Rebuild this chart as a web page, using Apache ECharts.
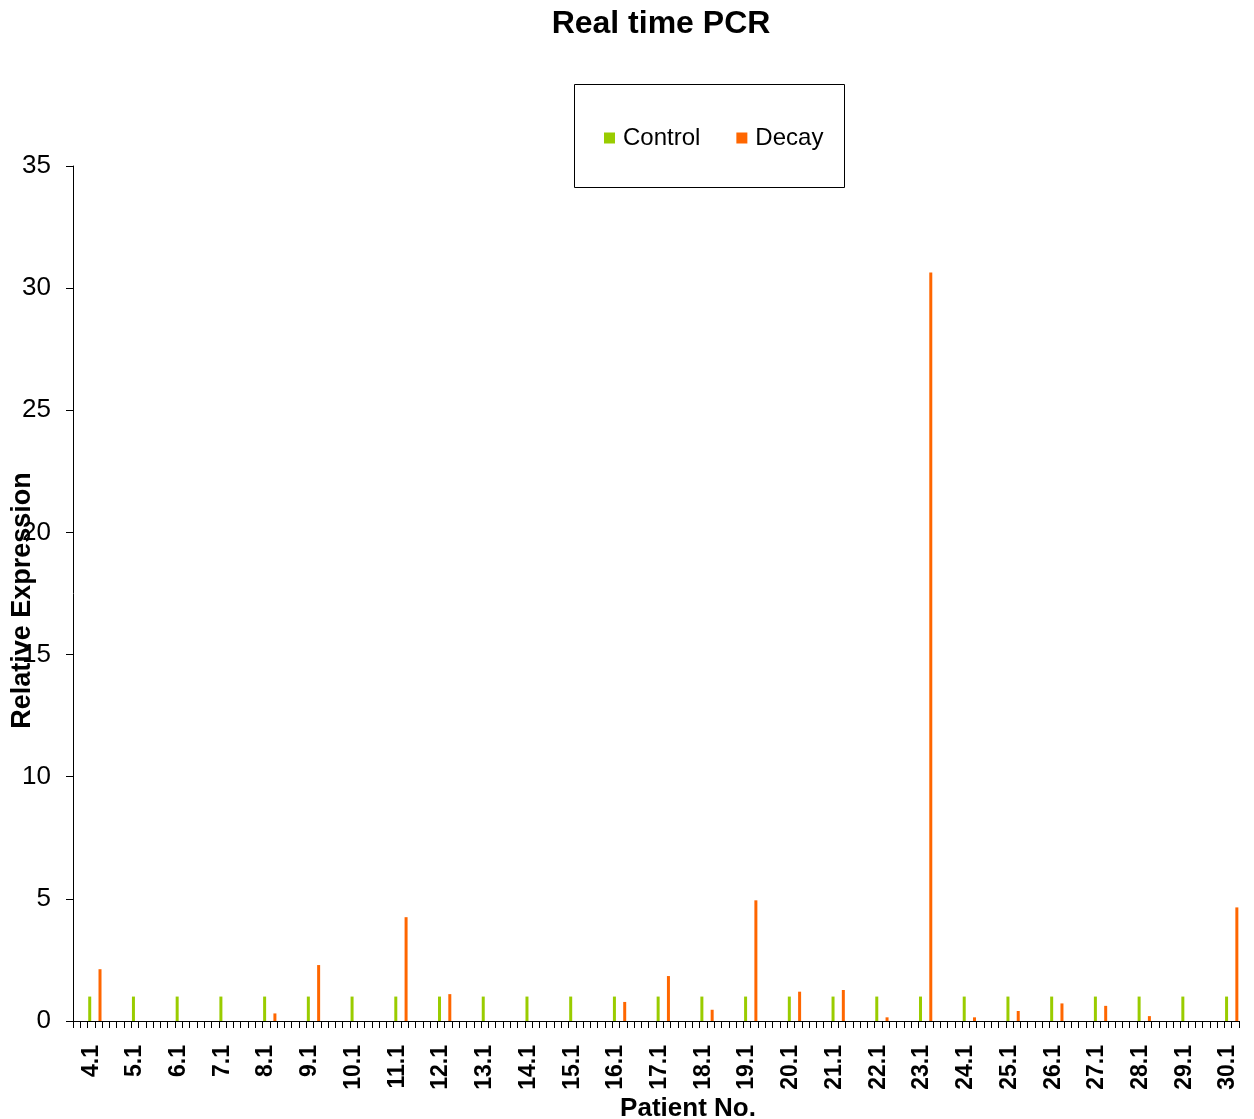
<!DOCTYPE html>
<html>
<head>
<meta charset="utf-8">
<title>Real time PCR</title>
<script src="https://cdn.jsdelivr.net/npm/echarts@6/dist/echarts.min.js"></script>
<style>
  html, body { margin: 0; padding: 0; background: #ffffff; }
  #chart { width: 1254px; height: 1119px; }
</style>
</head>
<body>
<div id="chart"></div>
<script>
// Patient numbers shown on the x axis
const patients = ['4.1', '5.1', '6.1', '7.1', '8.1', '9.1', '10.1', '11.1', '12.1',
  '13.1', '14.1', '15.1', '16.1', '17.1', '18.1', '19.1', '20.1', '21.1', '22.1',
  '23.1', '24.1', '25.1', '26.1', '27.1', '28.1', '29.1', '30.1'];

// Relative expression, control samples
const controlValues = [1, 1, 1, 1, 1, 1, 1, 1, 1, 1, 1, 1, 1, 1, 1, 1, 1, 1, 1,
  1, 1, 1, 1, 1, 1, 1, 1];

// Relative expression, decay samples (null = no measurement)
const decayValues = [2.12, null, null, null, 0.31, 2.29, null, 4.25, 1.1, null, null,
  null, 0.78, 1.84, 0.46, 4.94, 1.2, 1.27, 0.15, 30.64, 0.15, 0.41, 0.72, 0.62,
  0.2, null, 4.65];

// Y axis ticks
const yTicks = [0, 5, 10, 15, 20, 25, 30, 35];

// Each patient occupies a block of sub-slots on the category axis;
// control sits in slot 2 and decay in slot 3 of the block.
const SLOTS = 6;
const LAST_SLOTS = 4;
const CONTROL_SLOT = 2;
const DECAY_SLOT = 3;

const categories = [];
const controlData = [];
const decayData = [];
patients.forEach((p, i) => {
  const n = i === patients.length - 1 ? LAST_SLOTS : SLOTS;
  for (let k = 0; k < n; k++) {
    categories.push(p + '#' + k);
    controlData.push(k === CONTROL_SLOT ? controlValues[i] : null);
    decayData.push(k === DECAY_SLOT ? decayValues[i] : null);
  }
});

const FONT = '"Liberation Sans", Arial, sans-serif';

const chart = echarts.init(document.getElementById('chart'), null, { renderer: 'canvas' });

chart.setOption({
  backgroundColor: '#ffffff',
  animation: false,
  title: {
    text: 'Real time PCR',
    left: 656,
    top: 3,
    textAlign: 'center',
    textStyle: { fontFamily: FONT, fontSize: 32, fontWeight: 'bold', color: '#000' }
  },
  legend: {
    data: ['Control', 'Decay'],
    left: 604,
    top: 126,
    padding: 0,
    itemWidth: 11,
    itemHeight: 11,
    itemGap: 36,
    icon: 'rect',
    textStyle: { fontFamily: FONT, fontSize: 24, color: '#000', padding: [0, 0, 0, 3] }
  },
  graphic: [{
    type: 'rect',
    shape: { x: 574.5, y: 84.5, width: 270, height: 103 },
    style: { fill: 'rgba(0,0,0,0)', stroke: '#000', lineWidth: 1 },
    z: 1
  }],
  grid: {
    left: 73, right: 15, top: 166, bottom: 98,
    containLabel: false,
    outerBoundsMode: 'none'
  },
  xAxis: {
    type: 'category',
    data: categories,
    name: 'Patient No.',
    nameLocation: 'middle',
    nameGap: 75,
    nameMoveOverlap: false,
    nameTextStyle: {
      fontFamily: FONT, fontSize: 26, fontWeight: 'bold', color: '#000',
      padding: [0, 0, 0, 64]
    },
    axisLine: { lineStyle: { color: '#000', width: 1 } },
    axisTick: { show: true, interval: 0, alignWithLabel: false, length: 7,
      lineStyle: { color: '#000', width: 1 } },
    axisLabel: {
      interval: 0,
      rotate: 90,
      margin: 24,
      padding: [0, 0, 8, 0],
      fontFamily: FONT, fontSize: 23, fontWeight: 'bold', color: '#000',
      formatter: (value, idx) => (idx % SLOTS === CONTROL_SLOT ? patients[Math.floor(idx / SLOTS)] : '')
    },
    splitLine: { show: false }
  },
  yAxis: {
    type: 'value',
    min: yTicks[0],
    max: yTicks[yTicks.length - 1],
    interval: yTicks[1] - yTicks[0],
    name: 'Relative Expression',
    nameLocation: 'middle',
    nameGap: 37,
    nameMoveOverlap: false,
    nameTextStyle: {
      fontFamily: FONT, fontSize: 27, fontWeight: 'bold', color: '#000',
      padding: [0, 14, 0, 0]
    },
    axisLine: { show: true, lineStyle: { color: '#000', width: 1 } },
    axisTick: { show: true, length: 7, lineStyle: { color: '#000', width: 1 } },
    axisLabel: { margin: 22, fontFamily: FONT, fontSize: 26, color: '#000' },
    splitLine: { show: false }
  },
  series: [
    {
      name: 'Control',
      type: 'bar',
      data: controlData,
      barWidth: 3,
      barGap: '0%',
      itemStyle: { color: '#99CC00' }
    },
    {
      name: 'Decay',
      type: 'bar',
      data: decayData,
      barWidth: 3,
      itemStyle: { color: '#FF6600' }
    }
  ]
});
</script>
</body>
</html>
